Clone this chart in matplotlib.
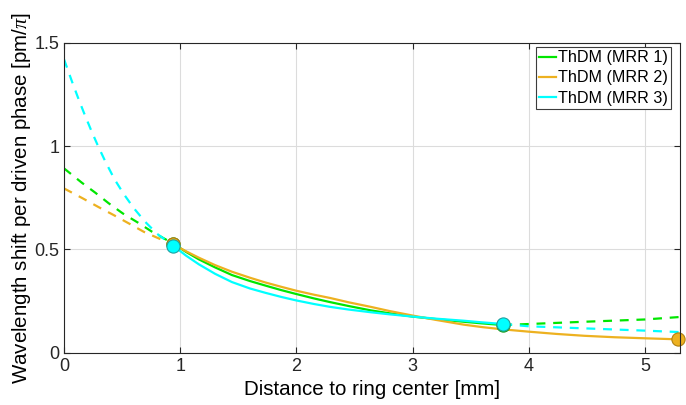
import matplotlib.pyplot as plt

plt.rcParams['font.family'] = ['Liberation Sans', 'DejaVu Sans']
plt.rcParams['mathtext.fontset'] = 'custom'
plt.rcParams['mathtext.it'] = 'Liberation Serif:italic'

# MRR 1 (verde)
x1_pre = [0, 0.155, 0.27, 0.385, 0.506, 0.638, 0.759, 0.94]
y1_pre = [0.892, 0.822, 0.774, 0.723, 0.674, 0.629, 0.585, 0.528]
x1 = [0.94, 1.05, 1.16, 1.3, 1.445, 1.6, 1.733, 1.87, 2.0, 2.15, 2.29, 2.45, 2.64,
      2.8, 3.0, 3.2, 3.44, 3.6, 3.78]
y1 = [0.528, 0.488, 0.452, 0.413, 0.376, 0.347, 0.325, 0.303, 0.284, 0.263, 0.245,
      0.226, 0.205, 0.191, 0.175, 0.163, 0.150, 0.142, 0.134]
x1_post = [3.78, 4.0, 4.48, 5.0, 5.3]
y1_post = [0.134, 0.139, 0.150, 0.161, 0.173]
x1_pts = [0.94, 3.78]
y1_pts = [0.528, 0.134]

# MRR 2 (naranja)
x2_pre = [0, 0.161, 0.293, 0.428, 0.557, 0.687, 0.816, 0.94]
y2_pre = [0.795, 0.747, 0.706, 0.666, 0.626, 0.585, 0.553, 0.525]
x2 = [0.94, 1.05, 1.16, 1.3, 1.445, 1.6, 1.733, 1.87, 2.0, 2.15, 2.29, 2.45, 2.64,
      2.8, 3.0, 3.2, 3.44, 3.6, 3.78, 4.0, 4.24, 4.48, 4.74, 5.0, 5.28]
y2 = [0.525, 0.491, 0.46, 0.424, 0.392, 0.363, 0.34, 0.319, 0.30, 0.281, 0.265,
      0.244, 0.222, 0.202, 0.18, 0.159, 0.136, 0.124, 0.113, 0.102, 0.091, 0.082,
      0.075, 0.07, 0.065]
x2_pts = [0.94, 5.28]
y2_pts = [0.525, 0.065]

# MRR 3 (cian)
x3_pre = [0, 0.07, 0.12, 0.17, 0.233, 0.293, 0.356, 0.434, 0.514, 0.6, 0.696, 0.802, 0.94]
y3_pre = [1.42, 1.31, 1.235, 1.163, 1.077, 1.0, 0.925, 0.84, 0.768, 0.70, 0.635, 0.575, 0.518]
x3 = [0.94, 1.05, 1.16, 1.3, 1.445, 1.6, 1.733, 1.87, 2.0, 2.15, 2.29, 2.45, 2.64,
      2.8, 3.0, 3.2, 3.44, 3.6, 3.78]
y3 = [0.518, 0.470, 0.428, 0.382, 0.342, 0.311, 0.29, 0.270, 0.253, 0.236, 0.222,
      0.209, 0.196, 0.186, 0.175, 0.165, 0.155, 0.147, 0.139]
x3_post = [3.78, 4.0, 4.48, 5.0, 5.3]
y3_post = [0.139, 0.128, 0.118, 0.107, 0.10]
x3_pts = [0.94, 3.78]
y3_pts = [0.518, 0.139]

c1, c2, c3 = '#00e600', '#edb120', '#00ffff'

fig = plt.figure(figsize=(6.86, 4.05), dpi=100)
ax = fig.add_axes([0.0933, 0.129, 0.8977, 0.7656])

lw = 1.6
ax.plot(x1, y1, color=c1, lw=lw, label='ThDM (MRR 1)')
ax.plot(x2, y2, color=c2, lw=lw, label='ThDM (MRR 2)')
ax.plot(x3, y3, color=c3, lw=lw, label='ThDM (MRR 3)')

dash = (0, (4, 3.5))
ax.plot(x1_pre, y1_pre, color=c1, lw=lw, linestyle=dash)
ax.plot(x1_post, y1_post, color=c1, lw=lw, linestyle=dash)
ax.plot(x2_pre, y2_pre, color=c2, lw=lw, linestyle=dash)
ax.plot(x3_pre, y3_pre, color=c3, lw=lw, linestyle=dash)
ax.plot(x3_post, y3_post, color=c3, lw=lw, linestyle=dash)

ms = 9.5
ax.plot(x1_pts, y1_pts, 'o', ms=ms, color=c1, mec='#1a9a1a', mew=0.8, clip_on=False)
ax.plot(x2_pts, y2_pts, 'o', ms=ms, color=c2, mec='#b08010', mew=0.8, clip_on=False)
ax.plot(x3_pts, y3_pts, 'o', ms=ms, color=c3, mec='#20a0a0', mew=0.8, clip_on=False)

ax.set_xlim(0, 5.3)
ax.set_ylim(0, 1.5)
ax.set_xticks([0, 1, 2, 3, 4, 5])
ax.set_yticks([0, 0.5, 1, 1.5])
ax.set_yticklabels(['0', '0.5', '1', '1.5'])
ax.grid(True, color='#dcdcdc', linewidth=0.8)
ax.set_axisbelow(True)
ax.tick_params(direction='in', top=True, right=True, length=4, width=0.8,
               labelsize=13, colors='#262626')
for s in ax.spines.values():
    s.set_color('#262626')
    s.set_linewidth(0.8)

ax.set_xlabel('Distance to ring center [mm]', fontsize=14.8, labelpad=4)
ax.set_ylabel(r'Wavelength shift per driven phase [pm/$\pi$]', fontsize=14.8, labelpad=1)

leg = ax.legend(loc='upper right', bbox_to_anchor=(0.9854, 0.986), borderaxespad=0,
                fontsize=11.6, fancybox=False, framealpha=1, edgecolor='#3c3c3c',
                handlelength=1.05, handletextpad=0.12, borderpad=0.2, labelspacing=0.32)
leg.get_frame().set_linewidth(0.8)

fig.savefig('out.png', dpi=100)
